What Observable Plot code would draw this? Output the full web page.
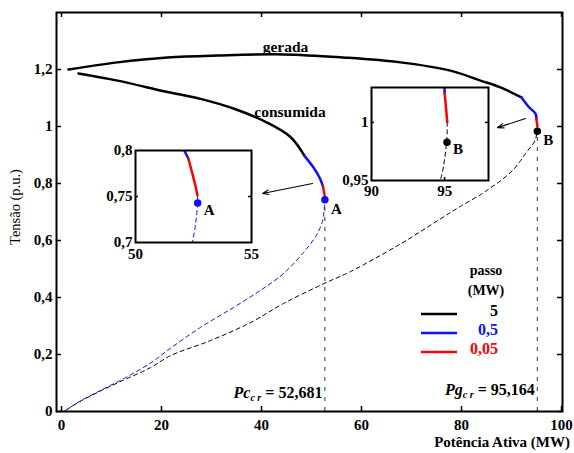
<!DOCTYPE html>
<html><head><meta charset="utf-8">
<script src="https://cdn.jsdelivr.net/npm/d3@7"></script>
<script src="https://cdn.jsdelivr.net/npm/@observablehq/plot@0.6"></script>
<style>
body{margin:0;background:#fff;}
#wrap{position:relative;width:574px;height:453px;overflow:hidden;}
#wrap > div{position:absolute;}
svg text{font-family:"Liberation Serif","Times New Roman",serif;}
</style></head><body><div id="wrap"><div id="main" style="left:0;top:0"></div><div id="insA" style="left:95px;top:135px"></div><div id="insB" style="left:326px;top:72px"></div></div>
<script>
// ---- data ----
const xTicks=[0,20,40,60,80,100];
const yTicks=[0,0.2,0.4,0.6,0.8,1,1.2];
// generated-power curve (gerada)
const gerBlackX=[1.4,11.2,21.2,31.2,44.4,56.4,67.8,77.8,83.8,87.8,92.0];
const gerBlackY=[1.200,1.225,1.242,1.249,1.253,1.242,1.225,1.196,1.161,1.137,1.102];
const gerBlueX=[92.0,93.5,94.8,95.0];
const gerBlueY=[1.102,1.068,1.045,1.025];
const gerRedX=[95.0,95.1,95.18];
const gerRedY=[1.025,1.012,1.000];
const gerDashX=[95.18,95.14,94.7,93.9,92.8,91.8,90.5,89.1,87.5,85.8,84.1,79.8,75.8,67.8,57.8,52.4,44.4,37.8,29.8,21.8,17.8,12.4,7.8,3.5,0.5];
const gerDashY=[1.000,0.984,0.950,0.930,0.905,0.880,0.851,0.828,0.805,0.785,0.764,0.720,0.676,0.588,0.491,0.448,0.379,0.312,0.249,0.196,0.154,0.110,0.072,0.033,0.0];
// consumed-power curve (consumida)
const conBlackX=[3.4,11.2,21.2,27.8,34.4,41.2,45.8,48.6];
const conBlackY=[1.186,1.161,1.121,1.097,1.063,1.013,0.963,0.897];
const conBlueX=[48.6,50.4,51.6,52.1,52.28];
const conBlueY=[0.897,0.856,0.821,0.800,0.791];
const conRedX=[52.28,52.45,52.58,52.67];
const conRedY=[0.791,0.775,0.762,0.751];
const conDashX=[52.67,52.68,52.59,52.46,52.4,51.2,48.4,44.4,39.8,34.4,27.8,21.8,17.8,12.4,7.8,3.5,0.5];
const conDashY=[0.751,0.743,0.720,0.700,0.681,0.625,0.558,0.484,0.425,0.365,0.295,0.222,0.170,0.115,0.074,0.034,0.0];
// critical points
const critNames=["A","B"];
const critX=[52.681,95.164];
const critY=[0.743,0.983];
const critColor=["#1010ff","#000000"];
const critLabel=["Pc","Pg"];
const critValue=["52,681","95,164"];
// curve labels
const curveNames=["gerada","consumida"];
const curveLabelX=[44.8,45.7];
const curveLabelY=[1.263,1.035];
// arrows pointing to the zoom windows
const arrowX1=[50.2,92.8], arrowY1=[0.800,1.028];
const arrowX2=[40.2,87.2], arrowY2=[0.765,0.996];
// legend
const legendTitle=["passo","(MW)"];
const legendSteps=["5","0,5","0,05"];
const legendColors=["#000000","#1010ff","#ff0000"];

const zip=(xs,ys)=>xs.map((x,i)=>({x,y:ys[i]}));
const fmt=d=>String(d).replace(".",",");
const FONT='"Liberation Serif","Times New Roman",serif';
const BLUE="#1010ff", RED="#ff0000";

function curveMarks(clip){
  const o={x:"x",y:"y",clip,curve:"catmull-rom"};
  return [
    Plot.line(zip(gerDashX,gerDashY),{...o,stroke:"#000",strokeWidth:1,strokeDasharray:"4,3.5"}),
    Plot.line(zip(conDashX,conDashY),{...o,stroke:BLUE,strokeWidth:1,strokeDasharray:"4,3.5"}),
    Plot.line(zip(gerBlackX,gerBlackY),{...o,stroke:"#000",strokeWidth:2.5}),
    Plot.line(zip(conBlackX,conBlackY),{...o,stroke:"#000",strokeWidth:2.5}),
    Plot.line(zip(gerBlueX,gerBlueY),{...o,stroke:BLUE,strokeWidth:2.5}),
    Plot.line(zip(conBlueX,conBlueY),{...o,stroke:BLUE,strokeWidth:2.5}),
    Plot.line(zip(gerRedX,gerRedY),{...o,stroke:RED,strokeWidth:2.5}),
    Plot.line(zip(conRedX,conRedY),{...o,stroke:RED,strokeWidth:2.5})
  ];
}
const crit=critNames.map((n,i)=>({n,x:critX[i],y:critY[i],c:critColor[i],lab:critLabel[i],val:critValue[i]}));

// ---- main chart ----
const W=574,H=453,mL=56,mR=12,mT=12,mB=42;
const iW=W-mL-mR, iH=H-mT-mB;
const main=Plot.plot({
  width:W,height:H,marginLeft:mL,marginRight:mR,marginTop:mT,marginBottom:mB,
  x:{domain:[-1,100.2]}, y:{domain:[0,1.4]},
  style:{fontFamily:FONT,background:"white",overflow:"visible"},
  marks:[
    Plot.ruleX(crit,{x:"x",y1:0,y2:"y",stroke:"#333",strokeWidth:1,strokeDasharray:"4,6"}),
    ...curveMarks(false),
    Plot.dot(crit,{x:"x",y:"y",r:3,fill:"c",stroke:"c"}),
    Plot.text(crit,{x:"x",y:"y",text:"n",dx:6,dy:14,textAnchor:"start",lineAnchor:"bottom",fontSize:15,fontWeight:"bold",fill:"#000",fontFamily:FONT}),
    Plot.text(curveNames.map((t,i)=>({t,x:curveLabelX[i],y:curveLabelY[i]})),{x:"x",y:"y",text:"t",lineAnchor:"bottom",fontSize:15.5,fontWeight:"bold",fill:"#000",fontFamily:FONT}),
    Plot.arrow(arrowX1.map((x,i)=>({x1:x,y1:arrowY1[i],x2:arrowX2[i],y2:arrowY2[i]})),{x1:"x1",y1:"y1",x2:"x2",y2:"y2",stroke:"#000",strokeWidth:1.1,headLength:9,headAngle:40}),
    Plot.tickY(yTicks,{y:d=>d,stroke:"#000",strokeWidth:1.5,insetRight:iW-5}),
    Plot.tickY(yTicks,{y:d=>d,stroke:"#000",strokeWidth:1.5,insetLeft:iW-5}),
    Plot.tickX(xTicks,{x:d=>d,stroke:"#000",strokeWidth:1.5,insetTop:iH-5}),
    Plot.tickX(xTicks,{x:d=>d,stroke:"#000",strokeWidth:1.5,insetBottom:iH-5}),
    Plot.frame({stroke:"#000",strokeWidth:2}),
    Plot.axisX({ticks:xTicks,tickSize:0,tickPadding:8,fontSize:15,fontWeight:"bold",tickFormat:fmt,label:null,fill:"#000",fontFamily:FONT}),
    Plot.axisY({ticks:yTicks,tickSize:0,tickPadding:4,fontSize:15,fontWeight:"bold",tickFormat:fmt,label:null,fill:"#000",fontFamily:FONT})
  ]
});
document.getElementById("main").appendChild(main);
const svg=d3.select(main);
const sx=main.scale("x"), sy=main.scale("y");
// axis titles
svg.append("text").attr("transform","translate(20,207) rotate(-90)").attr("text-anchor","middle")
  .attr("font-size",14.5).attr("font-family",FONT).attr("fill","#000").text("Tensão (p.u.)");
svg.append("text").attr("x",570).attr("y",447).attr("text-anchor","end").attr("font-size",15)
  .attr("font-weight","bold").attr("font-family",FONT).attr("fill","#000").text("Potência Ativa (MW)");
// critical value annotations
const baseY=[398,395];
crit.forEach((c,i)=>{
  const t=svg.append("text").attr("x",sx.apply(c.x)-2).attr("y",baseY[i]).attr("text-anchor","end")
    .attr("font-size",16).attr("font-weight","bold").attr("font-family",FONT).attr("fill","#000");
  t.append("tspan").attr("font-style","italic").text(c.lab);
  t.append("tspan").attr("font-style","italic").attr("font-size",10).attr("dy",3).text("c r");
  t.append("tspan").attr("dy",-3).text(" = "+c.val);
});
// legend
const lg=svg.append("g").attr("font-family",FONT).attr("font-weight","bold");
legendTitle.forEach((t,i)=>lg.append("text").attr("x",486).attr("y",275+i*20).attr("text-anchor","middle").attr("font-size",14).attr("fill","#000").text(t));
legendSteps.forEach((t,i)=>{
  const y=314+i*19;
  lg.append("line").attr("x1",421).attr("x2",457).attr("y1",y).attr("y2",y).attr("stroke",legendColors[i]).attr("stroke-width",2.5);
  lg.append("text").attr("x",498).attr("y",y+2).attr("text-anchor","end").attr("font-size",16).attr("fill",legendColors[i]).text(t);
});

// ---- zoom windows ----
function insetPlot(cfg){
  const iw=cfg.width-cfg.ml-cfg.mr, ih=cfg.height-cfg.mt-cfg.mb;
  return Plot.plot({
    width:cfg.width,height:cfg.height,marginLeft:cfg.ml,marginRight:cfg.mr,marginTop:cfg.mt,marginBottom:cfg.mb,
    x:{domain:cfg.xd}, y:{domain:cfg.yd},
    style:{fontFamily:FONT,background:"transparent",overflow:"visible"},
    marks:[
      Plot.frame({fill:"white"}),
      ...curveMarks(true),
      Plot.dot(crit.filter(c=>c.n===cfg.pt),{x:"x",y:"y",r:3,fill:"c",stroke:"c"}),
      Plot.text(crit.filter(c=>c.n===cfg.pt),{x:"x",y:"y",text:"n",dx:6,dy:12,textAnchor:"start",lineAnchor:"bottom",fontSize:15,fontWeight:"bold",fill:"#000",fontFamily:FONT}),
      Plot.tickY(cfg.yt,{y:d=>d,stroke:"#000",strokeWidth:1.5,insetRight:iw-3}),
      Plot.tickY(cfg.yt,{y:d=>d,stroke:"#000",strokeWidth:1.5,insetLeft:iw-3}),
      Plot.tickX(cfg.xt,{x:d=>d,stroke:"#000",strokeWidth:1.5,insetTop:ih-3}),
      Plot.frame({stroke:"#000",strokeWidth:2}),
      Plot.axisX({ticks:cfg.xl,tickSize:0,tickPadding:cfg.xpad,fontSize:15,fontWeight:"bold",tickFormat:fmt,label:null,fill:"#000",fontFamily:FONT}),
      Plot.axisY({ticks:cfg.yl,tickSize:0,tickPadding:3,fontSize:15,fontWeight:"bold",tickFormat:fmt,label:null,fill:"#000",fontFamily:FONT})
    ]
  });
}
document.getElementById("insA").appendChild(insetPlot({width:165,height:135,ml:40,mr:9,mt:15,mb:28,
  xd:[50,55],yd:[0.7,0.8],xl:[50,55],yl:[0.7,0.75,0.8],yt:[0.75],xt:[],xpad:6,pt:"A"}));
document.getElementById("insB").appendChild(insetPlot({width:170,height:135,ml:45,mr:8,mt:15,mb:27,
  xd:[90,98],yd:[0.95,1.03],xl:[90,95],yl:[0.95,1],yt:[1],xt:[95],xpad:5,pt:"B"}));
</script></body></html>
